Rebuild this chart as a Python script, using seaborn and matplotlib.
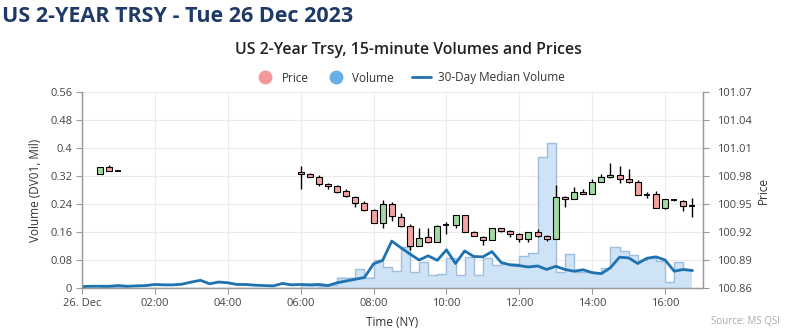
import numpy as np
import pandas as pd
import matplotlib
matplotlib.use("Agg")
import matplotlib.pyplot as plt
import seaborn as sns
from matplotlib.lines import Line2D

# ---------------- data ----------------
# 15-minute time grid for 26 Dec 2023, 00:00 .. 16:45
time_labels = pd.date_range("2023-12-26 00:00", periods=68, freq="15min")

volume = [
    0.0, 0.0, 0.003, 0.003, 0.002, 0.0, 0.0, 0.0,          # 00:00-01:45
    0.0, 0.0, 0.0, 0.0, 0.0, 0.0, 0.0, 0.0,                # 02:00-03:45
    0.0, 0.0, 0.0, 0.0, 0.0, 0.0, 0.0, 0.0,                # 04:00-05:45
    0.008, 0.008, 0.006, 0.008, 0.030, 0.030, 0.055, 0.030,  # 06:00-07:45
    0.079, 0.061, 0.049, 0.118, 0.047, 0.075, 0.036, 0.041,  # 08:00-09:45
    0.085, 0.038, 0.090, 0.038, 0.085, 0.066, 0.070, 0.070,  # 10:00-11:45
    0.091, 0.101, 0.375, 0.415, 0.045, 0.096, 0.047, 0.045,  # 12:00-13:45
    0.042, 0.056, 0.116, 0.107, 0.094, 0.080, 0.085, 0.078,  # 14:00-15:45
    0.018, 0.073, 0.051, 0.050,                              # 16:00-16:45
]

median_volume = [
    0.004, 0.005, 0.005, 0.005, 0.007, 0.005, 0.006, 0.007,
    0.010, 0.009, 0.009, 0.011, 0.017, 0.022, 0.012, 0.017,
    0.015, 0.010, 0.010, 0.008, 0.007, 0.006, 0.013, 0.009,
    0.010, 0.009, 0.010, 0.007, 0.015, 0.020, 0.025, 0.030,
    0.069, 0.079, 0.134, 0.115, 0.097, 0.080, 0.092, 0.079,
    0.109, 0.070, 0.106, 0.090, 0.089, 0.104, 0.073, 0.066,
    0.064, 0.060, 0.063, 0.053, 0.062, 0.053, 0.048, 0.052,
    0.044, 0.041, 0.058, 0.088, 0.086, 0.070, 0.085, 0.089,
    0.080, 0.048, 0.053, 0.050,
]

candle_times = ["00:30", "00:45", "01:00",
                "06:00", "06:15", "06:30", "06:45", "07:00", "07:15", "07:30", "07:45",
                "08:00", "08:15", "08:30", "08:45", "09:00", "09:15", "09:30", "09:45",
                "10:00", "10:15", "10:30", "10:45", "11:00", "11:15", "11:30", "11:45",
                "12:00", "12:15", "12:30", "12:45", "13:00", "13:15", "13:30", "13:45",
                "14:00", "14:15", "14:30", "14:45", "15:00", "15:15", "15:30", "15:45",
                "16:00", "16:15", "16:30", "16:45"]
price_open = [100.9818, 100.9893, 100.9850,
              100.9846, 100.9821, 100.9786, 100.9714, 100.9689, 100.9639, 100.9578, 100.9507,
              100.9435, 100.9293, 100.9500, 100.9357, 100.9268, 100.9050, 100.9143, 100.9093,
              100.9271, 100.9271, 100.9382, 100.9200, 100.9150, 100.9114, 100.9239, 100.9210,
              100.9178, 100.9121, 100.9196, 100.9157, 100.9128, 100.9578, 100.9550, 100.9628,
              100.9607, 100.9732, 100.9786, 100.9807, 100.9768, 100.9739, 100.9593, 100.9603,
              100.9453, 100.9546, 100.9536, 100.9478]
price_high = [100.9893, 100.9918, 100.9850,
              100.9907, 100.9828, 100.9807, 100.9728, 100.9707, 100.9657, 100.9589, 100.9535,
              100.9442, 100.9543, 100.9525, 100.9407, 100.9282, 100.9246, 100.9239, 100.9275,
              100.9311, 100.9382, 100.9382, 100.9207, 100.9157, 100.9239, 100.9246, 100.9221,
              100.9185, 100.9196, 100.9228, 100.9164, 100.9703, 100.9585, 100.9678, 100.9657,
              100.9764, 100.9821, 100.9943, 100.9907, 100.9871, 100.9757, 100.9628, 100.9639,
              100.9553, 100.9557, 100.9543, 100.9568]
price_low = [100.9818, 100.9854, 100.9850,
             100.9657, 100.9786, 100.9693, 100.9664, 100.9614, 100.9578, 100.9471, 100.9428,
             100.9293, 100.9239, 100.9321, 100.9257, 100.9007, 100.9050, 100.9086, 100.9093,
             100.9178, 100.9246, 100.9200, 100.9157, 100.9057, 100.9114, 100.9203, 100.9143,
             100.9096, 100.9096, 100.9150, 100.9104, 100.9128, 100.9471, 100.9550, 100.9607,
             100.9607, 100.9732, 100.9778, 100.9728, 100.9728, 100.9593, 100.9568, 100.9453,
             100.9443, 100.9532, 100.9425, 100.9364]
price_close = [100.9893, 100.9854, 100.9850,
               100.9818, 100.9793, 100.9714, 100.9689, 100.9625, 100.9585, 100.9507, 100.9435,
               100.9293, 100.9500, 100.9371, 100.9264, 100.9050, 100.9132, 100.9093, 100.9264,
               100.9271, 100.9382, 100.9200, 100.9157, 100.9114, 100.9239, 100.9210, 100.9178,
               100.9121, 100.9196, 100.9157, 100.9128, 100.9578, 100.9550, 100.9625, 100.9607,
               100.9732, 100.9786, 100.9807, 100.9764, 100.9739, 100.9593, 100.9593, 100.9453,
               100.9553, 100.9546, 100.9478, 100.9478]

x_tick_labels = ["26. Dec", "02:00", "04:00", "06:00", "08:00", "10:00", "12:00", "14:00", "16:00"]
vol_ticks = [0, 0.08, 0.16, 0.24, 0.32, 0.4, 0.48, 0.56]
vol_tick_labels = ["0", "0.08", "0.16", "0.24", "0.32", "0.4", "0.48", "0.56"]
price_ticks = [100.86, 100.89, 100.92, 100.95, 100.98, 101.01, 101.04, 101.07]

# ---------------- styling ----------------
sns.set_theme(style="white")
plt.rcParams["font.family"] = ["Open Sans", "DejaVu Sans"]

UP = "#a3d9a0"
DOWN = "#f2a3a3"
VOL_FILL = "#cfe3f6"
VOL_EDGE = "#9fbedd"
MED = "#1f72b0"
GRID = "#ebebeb"
SPINE = "#9a9a9a"
TXT = "#444444"

def to_hours(ts):
    ts = pd.to_datetime(ts)
    return ((ts - pd.Timestamp("2023-12-26")).total_seconds() / 3600.0)

hours = np.asarray(to_hours(time_labels))
ct = np.asarray(to_hours(pd.to_datetime(["2023-12-26 " + t for t in candle_times])))

df_vol = pd.DataFrame({"hour": hours, "volume": volume, "median": median_volume})

fig = plt.figure(figsize=(7.92, 3.31), dpi=100)
ax = fig.add_axes([82 / 792, 1 - 288 / 331, (703 - 82) / 792, (288 - 92) / 331])

# volume step area
ax.fill_between(df_vol["hour"], df_vol["volume"], step="post", color=VOL_FILL, lw=0, zorder=1)
ax.step(df_vol["hour"], df_vol["volume"], where="post", color=VOL_EDGE, lw=1.0, zorder=2)
# median line
sns.lineplot(data=df_vol, x="hour", y="median", ax=ax, color=MED, lw=2.0, zorder=3, legend=False)

ax.set_xlim(0, 17.04)
ax.set_ylim(0, 0.56)
ax.set_yticks(vol_ticks)
ax.set_yticklabels(vol_tick_labels)
ax.set_xticks(np.arange(0, 17, 2))
ax.set_xticklabels(x_tick_labels)
ax.grid(True, color=GRID, lw=0.8)
ax.set_axisbelow(True)

# price candles
ax2 = ax.twinx()
ax2.set_ylim(100.86, 101.07)
ax2.set_yticks(price_ticks)
ax2.set_yticklabels([f"{p:.2f}" for p in price_ticks])
o = np.array(price_open); c = np.array(price_close)
h = np.array(price_high); l = np.array(price_low)
w = 0.165
ax2.vlines(ct, l, h, color="black", lw=1.0, zorder=3)
is_doji = np.isclose(o, c)
body_bottom = np.minimum(o, c)
body_h = np.abs(c - o)
colors = [UP if cc > oo else DOWN for oo, cc in zip(o, c)]
nd = ~is_doji
ax2.bar(ct[nd], body_h[nd], bottom=body_bottom[nd], width=w,
        color=np.array(colors)[nd], edgecolor="black", lw=0.8, zorder=4)
ax2.hlines(o[is_doji], ct[is_doji] - w / 2, ct[is_doji] + w / 2, color="black", lw=1.3, zorder=4)

for a in (ax, ax2):
    a.spines["top"].set_visible(False)
    for s in ("left", "right", "bottom"):
        a.spines[s].set_color(SPINE)
        a.spines[s].set_linewidth(0.9)
ax.tick_params(axis="both", which="both", direction="out", length=4, width=0.8, color=SPINE,
               labelsize=8, labelcolor=TXT, left=True, bottom=True, pad=3)
ax2.tick_params(axis="y", direction="out", length=4, width=0.8, color=SPINE,
                labelsize=8, labelcolor=TXT, right=True, pad=6)

ax.set_ylabel("Volume (DV01, Mil)", fontsize=8.5, color="#333333", labelpad=6)
ax2.set_ylabel("Price", fontsize=8.5, color="#333333", labelpad=4)
ax.set_xlabel("Time (NY)", fontsize=8.5, color="#333333", labelpad=5)

# titles
fig.text(0.003, 1 - 16 / 331, "US 2-YEAR TRSY - Tue 26 Dec 2023", fontsize=15.5,
         fontweight="bold", color="#1f3a66", ha="left", va="center")
fig.text(408 / 792, 1 - 50 / 331, "US 2-Year Trsy, 15-minute Volumes and Prices",
         fontsize=11.4, fontweight="semibold", color="#222222", ha="center", va="center")

handles = [
    Line2D([], [], ls="none", marker="o", ms=9, mfc="#f29a9a", mec="#f29a9a"),
    Line2D([], [], ls="none", marker="o", ms=9, mfc="#6aaee6", mec="#6aaee6"),
    Line2D([], [], color=MED, lw=2),
]
fig.legend(handles, ["Price", "Volume", "30-Day Median Volume"], loc="center",
           bbox_to_anchor=(410 / 792, 1 - 78 / 331), ncol=3, frameon=False,
           fontsize=8.5, handlelength=1.6, handletextpad=0.6, columnspacing=1.5,
           labelcolor="#333333")

fig.text(780 / 792, 1 - 321 / 331, "Source: MS QSI", fontsize=7, color="#aaaaaa",
         ha="right", va="center")

fig.savefig("out.png", dpi=100)
